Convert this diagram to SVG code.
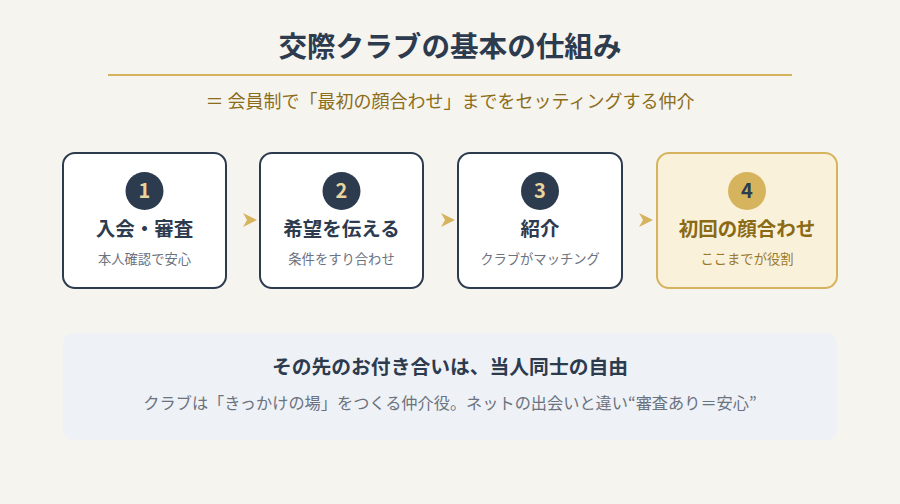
<svg xmlns="http://www.w3.org/2000/svg" width="900" height="504" viewBox="0 0 900 504">
<style>
text{font-family:"Noto Sans CJK JP","Noto Sans",sans-serif;text-anchor:middle}
.box{fill:#ffffff;stroke:#2d3b4f;stroke-width:2}
.boxg{fill:#faf1da;stroke:#d6b45e;stroke-width:2}
.num{fill:#e9d49b;font-size:20px;font-weight:700}
.numg{fill:#2d3b4f;font-size:20px;font-weight:700}
.t{fill:#2d3b4f;font-size:19.5px;font-weight:700}
.tg{fill:#8a6a14;font-size:19.5px;font-weight:700}
.s{fill:#6b7280;font-size:13.3px}
.sg{fill:#9a7a2a;font-size:13.3px}
.arr{fill:#d6b45e}
</style>
<rect width="900" height="504" fill="#f6f4ef"/>
<text x="450" y="57" font-size="28.6" font-weight="700" fill="#2d3b4f">交際クラブの基本の仕組み</text>
<line x1="108" y1="75" x2="792" y2="75" stroke="#d6b45e" stroke-width="2"/>
<text x="450" y="108" font-size="18" fill="#8b6d1a">＝ 会員制で「最初の顔合わせ」までをセッティングする仲介</text>
<g id="step1">
<rect class="box" x="63" y="153" width="163" height="135" rx="12"/>
<circle cx="144.5" cy="191" r="19" fill="#2d3b4f"/>
<text class="num" x="144.5" y="198">1</text>
<text class="t" x="144.5" y="236">入会・審査</text>
<text class="s" x="144.5" y="264">本人確認で安心</text>
</g>
<g id="step2">
<rect class="box" x="260" y="153" width="163" height="135" rx="12"/>
<circle cx="341.5" cy="191" r="19" fill="#2d3b4f"/>
<text class="num" x="341.5" y="198">2</text>
<text class="t" x="341.5" y="236">希望を伝える</text>
<text class="s" x="341.5" y="264">条件をすり合わせ</text>
</g>
<g id="step3">
<rect class="box" x="458" y="153" width="164" height="135" rx="12"/>
<circle cx="540" cy="191" r="19" fill="#2d3b4f"/>
<text class="num" x="540" y="198">3</text>
<text class="t" x="540" y="236">紹介</text>
<text class="s" x="540" y="264">クラブがマッチング</text>
</g>
<g id="step4">
<rect class="boxg" x="657" y="153" width="180" height="135" rx="12"/>
<circle cx="747" cy="191" r="19" fill="#d6b45e"/>
<text class="numg" x="747" y="198">4</text>
<text class="tg" x="747" y="236">初回の顔合わせ</text>
<text class="sg" x="747" y="264">ここまでが役割</text>
</g>
<g id="connectors">
<path class="arr" d="M243,213 L257,220 L243,227 L247,220 Z"/>
<path class="arr" d="M441,213 L455,220 L441,227 L445,220 Z"/>
<path class="arr" d="M639,213 L653,220 L639,227 L643,220 Z"/>
</g>
<g id="note">
<rect x="63" y="333" width="774" height="107" rx="10" fill="#eef1f5"/>
<text x="450" y="374" font-size="19.8" font-weight="700" fill="#2d3b4f">その先のお付き合いは、当人同士の自由</text>
<text x="450" y="409" font-size="16.2" fill="#6b7280">クラブは「きっかけの場」をつくる仲介役。ネットの出会いと違い“審査あり＝安心”</text>
</g>
</svg>
